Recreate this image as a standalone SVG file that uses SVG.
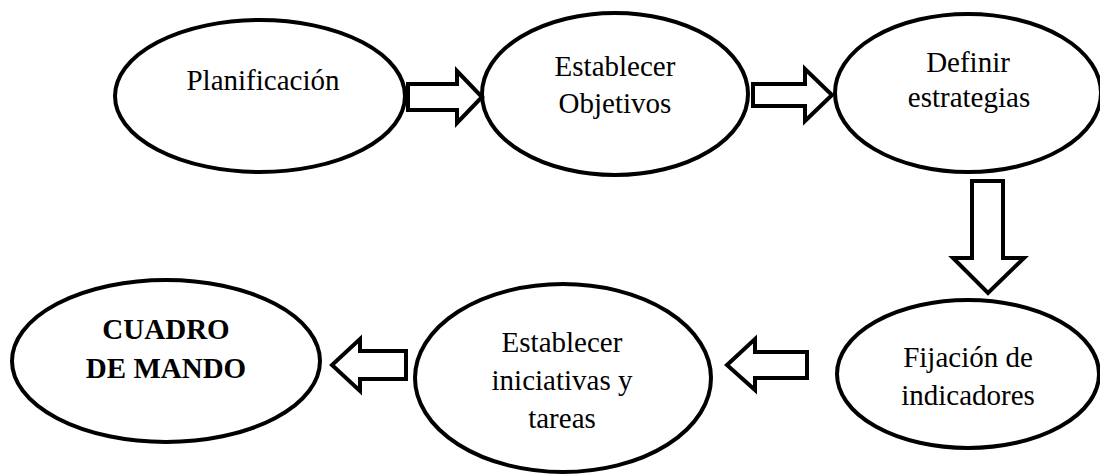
<svg xmlns="http://www.w3.org/2000/svg" width="1100" height="474" viewBox="0 0 1100 474">
<style>
.node ellipse{fill:#fff;stroke:#000;stroke-width:4}
.node text{font-family:"Liberation Serif","Times New Roman",serif;font-size:29px;fill:#000;text-anchor:middle}
.node text.b{font-weight:bold}
.conn path{fill:#fff;stroke:#000;stroke-width:4;stroke-linejoin:miter}
</style>
<rect width="1100" height="474" fill="#fff"/>
<g id="n1" class="node"><ellipse cx="260" cy="96" rx="145" ry="76"/><text x="263" y="90">Planificación</text></g>
<g id="n2" class="node"><ellipse cx="615" cy="94" rx="133" ry="81"/><text x="615" y="76">Establecer</text><text x="615" y="113">Objetivos</text></g>
<g id="n3" class="node"><ellipse cx="968" cy="93" rx="133" ry="79"/><text x="968" y="72">Definir</text><text x="969" y="107">estrategias</text></g>
<g id="n4" class="node"><ellipse cx="968" cy="374" rx="131" ry="74"/><text x="968" y="367">Fijación de</text><text x="968" y="405">indicadores</text></g>
<g id="n5" class="node"><ellipse cx="563" cy="378" rx="148" ry="94"/><text x="562" y="352">Establecer</text><text x="562" y="390">iniciativas y</text><text x="562" y="428">tareas</text></g>
<g id="n6" class="node"><ellipse cx="166" cy="361" rx="154" ry="81"/><text class="b" x="166" y="339">CUADRO</text><text class="b" x="166" y="378">DE MANDO</text></g>
<g id="connectors" class="conn">
<path d="M408,84 L457,84 L457,71 L482,97 L457,123 L457,110 L408,110 Z"/>
<path d="M753,84 L805,84 L805,69 L832,95 L805,121 L805,106 L753,106 Z"/>
<path d="M972,181 L1003,181 L1003,258 L1024,258 L988,293 L953,258 L972,258 Z"/>
<path d="M807,352 L755,352 L755,339 L727,365 L755,390 L755,378 L807,378 Z"/>
<path d="M406,351 L360,351 L360,339 L332,365 L360,391 L360,379 L406,379 Z"/>
</g>
</svg>
